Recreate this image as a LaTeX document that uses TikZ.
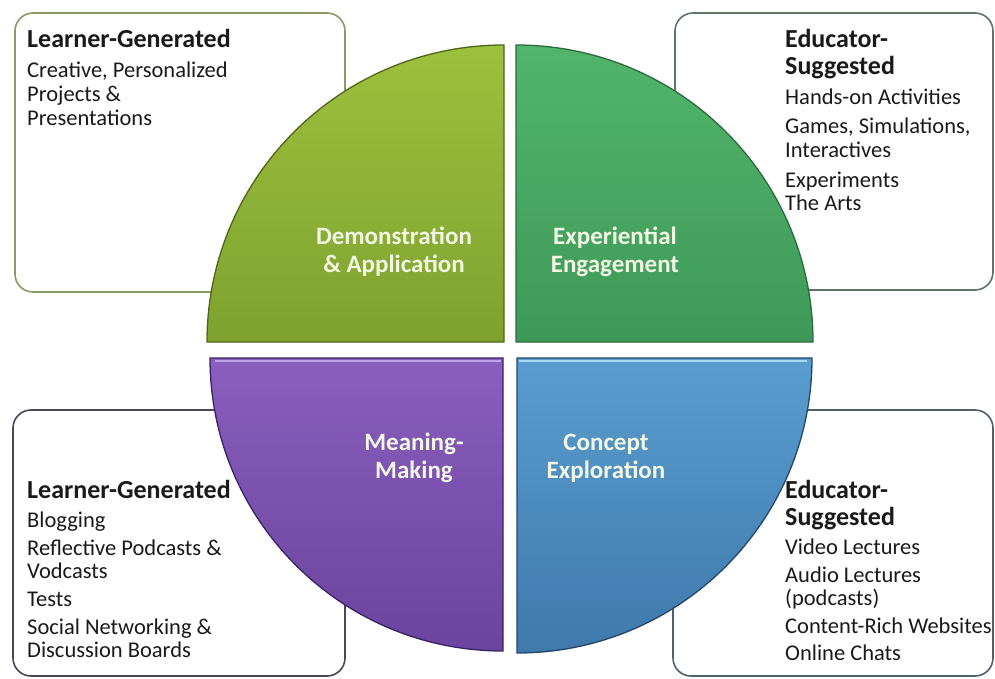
\documentclass[tikz,border=0pt]{standalone}
\usepackage{fontspec}
\setmainfont{Carlito}
\usetikzlibrary{shadings}
\definecolor{tlA}{HTML}{9DC03D}
\definecolor{tlB}{HTML}{7FA230}
\definecolor{tlE}{HTML}{4F661C}
\definecolor{trA}{HTML}{52B56B}
\definecolor{trB}{HTML}{3E9958}
\definecolor{trE}{HTML}{2A6B3C}
\definecolor{blA}{HTML}{8A5EBD}
\definecolor{blB}{HTML}{6A449E}
\definecolor{blE}{HTML}{3A2366}
\definecolor{blH}{HTML}{BFA2E6}
\definecolor{brA}{HTML}{5A9DCE}
\definecolor{brB}{HTML}{3F79AC}
\definecolor{brE}{HTML}{23476A}
\definecolor{brH}{HTML}{A8DAF2}
\definecolor{qtext}{HTML}{F2F7E4}
\definecolor{bTL}{HTML}{8A9A62}
\definecolor{bTR}{HTML}{5B7566}
\definecolor{bBL}{HTML}{4A4658}
\definecolor{bBR}{HTML}{50606E}
\definecolor{ink}{HTML}{1A1A1A}
\tikzset{
  boxframe/.style={rounded corners=18pt, line width=1.6pt, fill=white},
  quad/.style={line width=1.3pt},
  qlabel/.style={font=\fontsize{25}{28}\selectfont\bfseries, text=qtext, align=center, inner sep=0pt},
  ttl/.style={font=\fontsize{26}{28}\selectfont\bfseries, text=ink, anchor=base west, inner sep=0pt},
  itm/.style={font=\fontsize{22.5}{24}\selectfont, text=ink, anchor=base west, inner sep=0pt}
}
\begin{document}
\begin{tikzpicture}[x=1pt,y=-1pt]
\useasboundingbox (0,0) rectangle (995,679);
\fill[white] (0,0) rectangle (995,679);
% boxes
\draw[boxframe, draw=bTL] (15,13) rectangle (345,292);
\draw[boxframe, draw=bTR] (675,13) rectangle (993,290);
\draw[boxframe, draw=bBL] (13,410) rectangle (345,676);
\draw[boxframe, draw=bBR] (673,410) rectangle (993,676);
% quadrants
\coordinate (cTL) at (504,342);
\coordinate (cTR) at (516,342);
\coordinate (cBL) at (503,358);
\coordinate (cBR) at (517,358);
\draw[quad, draw=tlE, top color=tlA, bottom color=tlB]
  (cTL) -- ++(-297,0) arc[start angle=180, end angle=270, radius=297] -- cycle;
\draw[quad, draw=trE, top color=trA, bottom color=trB]
  (cTR) -- ++(0,-297) arc[start angle=270, end angle=360, radius=297] -- cycle;
\draw[quad, draw=brE, top color=brA, bottom color=brB]
  (cBR) -- ++(295,0) arc[start angle=0, end angle=90, radius=295] -- cycle;
\draw[quad, draw=blE, top color=blA, bottom color=blB]
  (cBL) -- ++(0,293) arc[start angle=90, end angle=180, radius=293] -- cycle;
% bevel highlights
\draw[line width=2pt, blH] ([xshift=-2pt,yshift=-3pt]cBL) -- ++(-286,0);
\draw[line width=2pt, brH] ([xshift=2pt,yshift=-3pt]cBR) -- ++(288,0);
% quadrant labels
\node[qlabel] (qtl) at (394,252) {Demonstration\\\& Application};
\node[qlabel] (qtr) at (615,252) {Experiential\\Engagement};
\node[qlabel] (qbl) at (414,458) {Meaning-\\Making};
\node[qlabel] (qbr) at (606,458) {Concept\\Exploration};
% top-left text
\node[ttl] (tl0) at (27,48) {Learner-Generated};
\node[itm] (tl1) at (27,78) {Creative, Personalized};
\node[itm] (tl2) at (27,102) {Projects \&};
\node[itm] (tl3) at (27,126) {Presentations};
% top-right text
\node[ttl] (tr0) at (785,48) {Educator-};
\node[ttl] (tr1) at (785,75) {Suggested};
\node[itm] (tr2) at (785,105) {Hands-on Activities};
\node[itm] (tr3) at (785,134) {Games, Simulations,};
\node[itm] (tr4) at (785,158) {Interactives};
\node[itm] (tr5) at (785,187) {Experiments};
\node[itm] (tr6) at (785,211) {The Arts};
% bottom-left text
\node[ttl] (bl0) at (27,498) {Learner-Generated};
\node[itm] (bl1) at (27,527) {Blogging};
\node[itm] (bl2) at (27,555) {Reflective Podcasts \&};
\node[itm] (bl3) at (27,578) {Vodcasts};
\node[itm] (bl4) at (27,606) {Tests};
\node[itm] (bl5) at (27,634) {Social Networking \&};
\node[itm] (bl6) at (27,657) {Discussion Boards};
% bottom-right text
\node[ttl] (br0) at (785,498) {Educator-};
\node[ttl] (br1) at (785,525) {Suggested};
\node[itm] (br2) at (785,554) {Video Lectures};
\node[itm] (br3) at (785,582) {Audio Lectures};
\node[itm] (br4) at (785,605) {(podcasts)};
\node[itm] (br5) at (785,633) {Content-Rich Websites};
\node[itm] (br6) at (785,660) {Online Chats};
\end{tikzpicture}
\end{document}
